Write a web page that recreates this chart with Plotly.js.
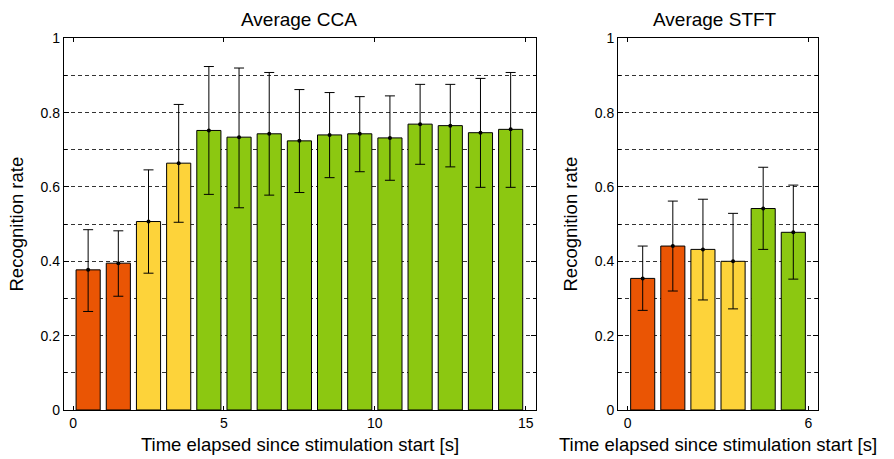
<!DOCTYPE html>
<html>
<head>
<meta charset="utf-8">
<script src="https://cdn.plot.ly/plotly-3.0.1.min.js"></script>
<style>
  html, body { margin: 0; padding: 0; background: #fff; }
  #chart { width: 894px; height: 459px; }
</style>
</head>
<body>
<div id="chart"></div>
<script>
// Recognition rate per second of elapsed stimulation time
const ccaTime = [0.5, 1.5, 2.5, 3.5, 4.5, 5.5, 6.5, 7.5, 8.5, 9.5, 10.5, 11.5, 12.5, 13.5, 14.5];
const ccaRate = [0.377, 0.395, 0.507, 0.664, 0.752, 0.734, 0.743, 0.724, 0.740, 0.743, 0.732, 0.769, 0.765, 0.746, 0.755];
const ccaUpper = [0.485, 0.482, 0.646, 0.822, 0.924, 0.920, 0.908, 0.862, 0.854, 0.843, 0.845, 0.876, 0.876, 0.892, 0.908];
const ccaLower = [0.265, 0.306, 0.368, 0.505, 0.580, 0.544, 0.578, 0.585, 0.625, 0.641, 0.618, 0.661, 0.654, 0.599, 0.599];

const stftTime = [0.5, 1.5, 2.5, 3.5, 4.5, 5.5];
const stftRate = [0.354, 0.441, 0.432, 0.400, 0.542, 0.478];
const stftUpper = [0.441, 0.562, 0.567, 0.529, 0.653, 0.605];
const stftLower = [0.268, 0.320, 0.296, 0.272, 0.432, 0.352];

// Colour class of each bar: low / medium / high
const ccaLevel = ['low', 'low', 'mid', 'mid', 'high', 'high', 'high', 'high', 'high', 'high', 'high', 'high', 'high', 'high', 'high'];
const stftLevel = ['low', 'low', 'mid', 'mid', 'high', 'high'];
const levelColor = { low: '#EA5504', mid: '#FDD33A', high: '#8CC811' };

const xTitle = 'Time elapsed since stimulation start [s]';
const yTitle = 'Recognition rate';
const panelTitles = ['Average CCA', 'Average STFT'];

const FONT = 'Liberation Sans, Arial, Helvetica, sans-serif';

function barTrace(x, y, levels, xa, ya) {
  return {
    type: 'bar', x: x, y: y, xaxis: xa, yaxis: ya, width: 0.8,
    marker: { color: levels.map(l => levelColor[l]), line: { color: '#000', width: 1 } },
    hoverinfo: 'x+y', showlegend: false
  };
}
function errTrace(x, y, up, lo, xa, ya) {
  return {
    type: 'scatter', mode: 'markers', x: x, y: y, xaxis: xa, yaxis: ya,
    marker: { color: '#000', size: 4 },
    error_y: {
      type: 'data', symmetric: false,
      array: up.map((u, i) => u - y[i]),
      arrayminus: lo.map((l, i) => y[i] - l),
      color: '#000', thickness: 1, width: 5
    },
    showlegend: false
  };
}

const data = [
  barTrace(ccaTime, ccaRate, ccaLevel, 'x', 'y'),
  errTrace(ccaTime, ccaRate, ccaUpper, ccaLower, 'x', 'y'),
  barTrace(stftTime, stftRate, stftLevel, 'x2', 'y2'),
  errTrace(stftTime, stftRate, stftUpper, stftLower, 'x2', 'y2')
];

const yDomain = [0.1068, 0.9166];
const DASH = '4px,3px';

function xAxis(domain, range, dtick, anchor) {
  return {
    domain: domain, range: range, anchor: anchor,
    tick0: 0, dtick: dtick, ticks: 'inside', ticklen: 4, tickcolor: '#000',
    showline: true, linecolor: '#000', linewidth: 1.2, mirror: 'ticks',
    showgrid: false, zeroline: false,
    tickfont: { family: FONT, size: 14, color: '#000' },
    title: { text: xTitle, font: { family: FONT, size: 18.5, color: '#000' }, standoff: 8 }
  };
}
function yAxis(anchor) {
  return {
    domain: yDomain, range: [0, 1], anchor: anchor,
    tick0: 0, dtick: 0.2, ticks: 'inside', ticklen: 5, tickcolor: '#000',
    showline: true, linecolor: '#000', linewidth: 1.2, mirror: 'ticks',
    showgrid: true, gridcolor: '#000', griddash: DASH, gridwidth: 0.8,
    minor: { dtick: 0.1, showgrid: true, gridcolor: '#000', griddash: DASH, gridwidth: 0.8, ticks: 'inside', ticklen: 3, tickcolor: '#000' },
    zeroline: false,
    tickfont: { family: FONT, size: 14, color: '#000' },
    title: { text: yTitle, font: { family: FONT, size: 18.5, color: '#000' }, standoff: 12 }
  };
}

const layout = {
  width: 894, height: 459,
  margin: { l: 0, r: 0, t: 0, b: 0 },
  paper_bgcolor: '#fff', plot_bgcolor: '#fff',
  xaxis: xAxis([64 / 894, 536 / 894], [-0.3, 15.34], 5, 'y'),
  yaxis: yAxis('x'),
  xaxis2: xAxis([618.3 / 894, 817.7 / 894], [-0.31, 6.31], 6, 'y2'),
  yaxis2: yAxis('x2'),
  annotations: [
    { text: panelTitles[0], xref: 'paper', yref: 'paper', x: 299 / 894, y: 1 - 19 / 459,
      xanchor: 'center', yanchor: 'middle', showarrow: false, font: { family: FONT, size: 19, color: '#000' } },
    { text: panelTitles[1], xref: 'paper', yref: 'paper', x: 715 / 894, y: 1 - 19 / 459,
      xanchor: 'center', yanchor: 'middle', showarrow: false, font: { family: FONT, size: 19, color: '#000' } }
  ]
};

Plotly.newPlot('chart', data, layout, { displayModeBar: false, staticPlot: true });
</script>
</body>
</html>
